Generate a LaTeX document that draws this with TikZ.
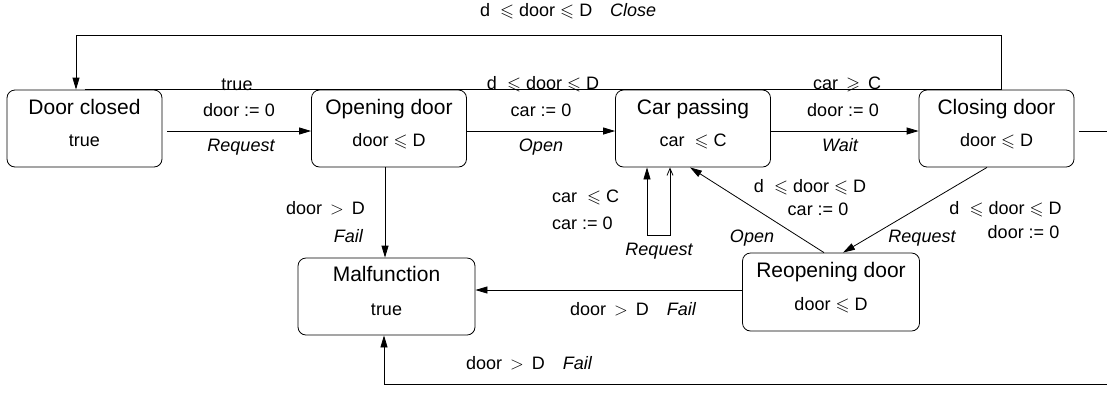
\RequirePackage{fix-cm}
\documentclass[tikz,border=0pt]{standalone}
\usepackage{amssymb}
\usepackage{fontspec}
\setmainfont{Liberation Sans}
\usetikzlibrary{arrows.meta}

\tikzset{
  state/.style={draw, line width=0.8pt, rounded corners=8pt,
    minimum width=155pt, minimum height=77pt, inner sep=0pt},
  widestate/.style={minimum width=177pt},
  ttl/.style={inner sep=0pt, text height=0.72em, text depth=0pt,
    font=\fontsize{21}{25}\selectfont},
  lbl/.style={inner sep=0pt, text height=0.72em, text depth=0pt,
    font=\fontsize{18}{22}\selectfont},
  act/.style={lbl, font=\fontsize{18}{22}\selectfont\itshape},
  wire/.style={line width=0.8pt},
  arr/.style={wire, -{Triangle[length=12pt,width=7pt]}},
}

\begin{document}
\begin{tikzpicture}[x=1pt,y=-1pt]
\useasboundingbox (0,0) rectangle (1107,392);

% states
\node[state] (dc) at (84.5,128.5) {};
\node[state] (od) at (389,128.5) {};
\node[state] (cp) at (693,128.5) {};
\node[state] (cl) at (996.5,128.5) {};
\node[state,widestate] (mf) at (386.5,296.5) {};
\node[state,widestate,minimum height=78pt] (ro) at (831,292) {};

% state names and invariants
\node[ttl] (dcT) at ([yshift=17.5pt]dc.center) {Door closed};
\node[lbl] (dcI) at ([yshift=-14.5pt]dc.center) {true};
\node[ttl] (odT) at ([yshift=17.5pt]od.center) {Opening door};
\node[lbl] (odI) at ([yshift=-14.5pt]od.center) {door $\leqslant$ D};
\node[ttl] (cpT) at ([yshift=17.5pt]cp.center) {Car passing};
\node[lbl] (cpI) at ([yshift=-14.5pt]cp.center) {car\ \ $\leqslant$ C};
\node[ttl] (clT) at ([yshift=17.5pt]cl.center) {Closing door};
\node[lbl] (clI) at ([yshift=-14.5pt]cl.center) {door $\leqslant$ D};
\node[ttl] (mfT) at ([yshift=18.5pt]mf.center) {Malfunction};
\node[lbl] (mfI) at ([yshift=-15.5pt]mf.center) {true};
\node[ttl] (roT) at ([yshift=18pt]ro.center) {Reopening door};
\node[lbl] (roI) at ([yshift=-15pt]ro.center) {door $\leqslant$ D};

% main row of transitions
\draw[arr,shorten <=5pt] ([yshift=-2.5pt]dc.east) -- ([yshift=-2.5pt]od.west);
\draw[arr] ([yshift=-2.5pt]od.east) -- ([yshift=-2.5pt]cp.west);
\draw[arr] ([yshift=-2.5pt]cp.east) -- ([yshift=-2.5pt]cl.west);

\node[lbl,anchor=base] (g1) at (237,90) {true};
\node[lbl] (u1) at (239,113) {door := 0};
\node[act] (a1) at (241,148) {Request};

\node[lbl,anchor=base] (g2) at (543,89.5) {d\ \ $\leqslant$ door $\leqslant$ D};
\node[lbl] (u2) at (541,113) {car := 0};
\node[act] (a2) at (541,148) {Open};

\node[lbl,anchor=base] (g3) at (847,89.5) {car\ \,$\geqslant$\ \,C};
\node[lbl] (u3) at (843,113) {door := 0};
\node[act] (a3) at (840,148) {Wait};

% rail along the top of the first row
\coordinate (clTop) at ([xshift=4.5pt]cl.north);
\draw[wire] (dc.north) -- (clTop);

% Close: back to the closed state
\draw[arr] (clTop) -- ++(0,-54) -| ([xshift=-8.5pt]dc.north);
\node[lbl,anchor=west] (g4) at (480,13) {d\ \ $\leqslant$ door $\leqslant$ D\hspace{18pt}\textit{Close}};

% Fail from opening door
\draw[arr] ([xshift=-4pt]od.south) -- ([xshift=-4pt]od.south |- mf.north);
\node[lbl,anchor=east] (g5) at (365,211) {door \,$>$\, D};
\node[act,anchor=east] (a5) at (363,239) {Fail};

% Request while the car is passing
\draw[wire, {Straight Barb[length=7pt,width=6pt]}-{Triangle[length=12pt,width=7pt]}]
  ([xshift=-23pt]cp.south) -- ++(0,68) -| ([xshift=-46pt]cp.south);
\node[lbl,anchor=west] (g6) at (552,199) {car\ \ $\leqslant$\ C};
\node[lbl,anchor=west] (u6) at (552,226) {car := 0};
\node[act] (a6) at (659,252) {Request};

% reopening back to car passing
\draw[arr] ([xshift=-7pt]ro.north) -- ([xshift=-3pt]cp.south);
\node[lbl] (g7) at (810,189) {d\ \ $\leqslant$ door $\leqslant$ D};
\node[lbl] (u7) at (818,212) {car := 0};
\node[act] (a7) at (752,239) {Open};

% closing door to reopening door
\draw[arr] ([xshift=-9.5pt]cl.south) -- ([xshift=12pt]ro.north);
\node[lbl] (g8) at (1005.5,211) {d\ \ $\leqslant$ door $\leqslant$ D};
\node[lbl] (u8) at (1023.5,235) {door := 0};
\node[act] (a8) at (922,239) {Request};

% Fail from reopening door
\draw[arr] ([yshift=2pt]ro.west) -- ([yshift=2pt]ro.west -| mf.east);
\node[lbl,anchor=west] (g9) at (570,312) {door \,$>$\, D\hspace{18pt}\textit{Fail}};

% Fail from closing door, routed round the bottom
\draw[arr,shorten <=5pt] ([yshift=-2.5pt]cl.east) -- (1120,131) -- (1120,384)
  -| ([xshift=-2.5pt]mf.south);
\node[lbl,anchor=west] (g10) at (466,366) {door \,$>$\, D\hspace{18pt}\textit{Fail}};
\end{tikzpicture}
\end{document}
